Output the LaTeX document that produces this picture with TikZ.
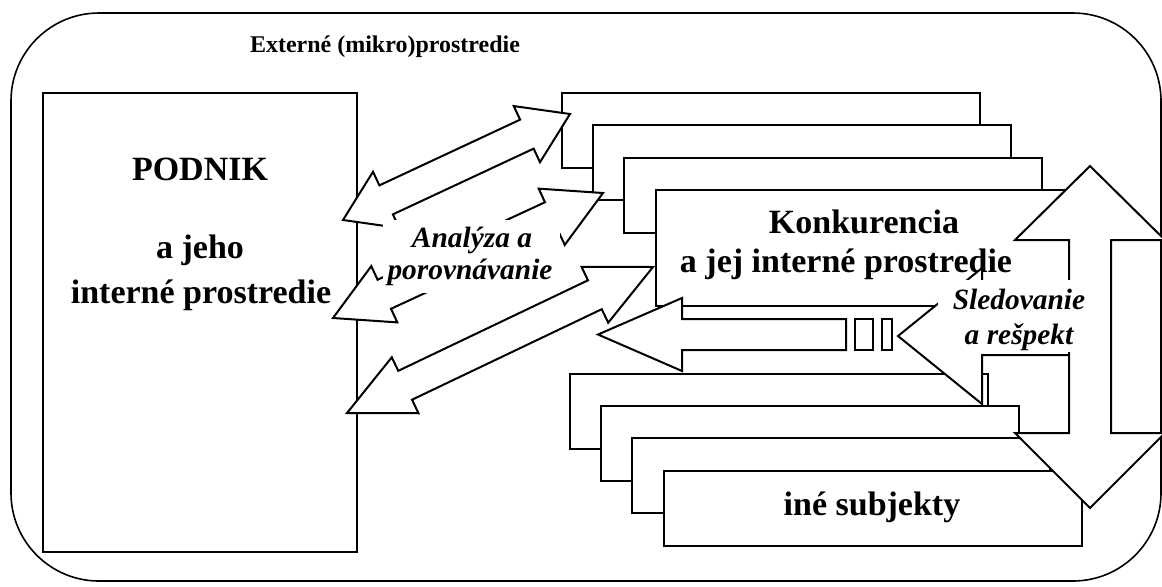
\documentclass[tikz,border=0pt]{standalone}
\usepackage{fontspec}
\setmainfont{Liberation Serif}
\usetikzlibrary{calc}

\begin{document}
\begin{tikzpicture}[x=0.5pt, y=-0.5pt,
    frame/.style={draw, line width=0.8pt, rounded corners=44pt},
    box/.style={draw, fill=white, line width=1pt, inner sep=0pt, minimum width=209pt, minimum height=37.5pt},
    blockarrow/.style={draw, fill=white, line width=1pt, line join=miter},
    mask/.style={fill=white, inner sep=0pt},
    bigtext/.style={font=\fontsize{17}{20}\selectfont\bfseries, inner sep=0pt, anchor=base},
    smalltext/.style={font=\fontsize{14.7}{17}\selectfont\bfseries\itshape, inner sep=0pt, anchor=base}]
  \useasboundingbox (0,0) rectangle (1162,586);

  % External environment
  \draw[frame] (11,13) rectangle (1161,581);
  \node[font=\fontsize{12}{14}\selectfont\bfseries, inner sep=0pt, anchor=base] (title) at (385,52) {Externé (mikro)prostredie};

  % Company
  \node[box, minimum width=157pt, minimum height=229.5pt] (podnik) at (200,322.5) {};
  \node[bigtext] (podnikname) at (200,180) {PODNIK};
  \node[bigtext] (podnikint1) at (200,258) {a jeho};
  \node[bigtext] (podnikint2) at (201,303) {interné prostredie};

  % Competitors
  \foreach \i in {0,...,2} {
    \node[box] (konk\i) at (771+\i*31, 130.5+\i*32.3) {};
  }
  \node[box, minimum height=58pt] (konk) at (865,248) {};
  \node[bigtext] (konkname) at (864,233) {Konkurencia};
  \node[bigtext] (konkint) at (846,272) {a jej interné prostredie};

  % Other subjects
  \node[box] (ine0) at (779,411) {};
  \draw[blockarrow] (898,336) -- (982,268) -- (982,317) -- (1080,317) -- (1080,355) -- (982,355) -- (982,404) -- cycle;
  \foreach \i in {1,2} {
    \node[box] (ine\i) at (779+\i*31, 411+\i*32.3) {};
  }
  \node[box] (ine) at (872.5,508.5) {};
  \node[bigtext] (inename) at (872,515) {iné subjekty};

  % Striped arrow
  \draw[blockarrow] (598,334.5) -- (682,298) -- (682,319) -- (846,319) -- (846,350) -- (682,350) -- (682,371) -- cycle;
  \draw[blockarrow] (855,319) rectangle (873,350);
  \draw[blockarrow] (882,319) rectangle (892,350);

  % Analysis arrows
  \coordinate (pa) at (343,220);
  \coordinate (ka) at (570,114);
  \coordinate (pb) at (333,318);
  \coordinate (kb) at (603,193);
  \coordinate (pc) at (347,413);
  \coordinate (kc) at (653,267);
  \foreach \src/\dst in {pa/ka, pb/kb, pc/kc} {
    \draw[blockarrow] (\src) -- ($(\src)!0.19!(\dst)!15.5pt!90:(\dst)$) -- ($(\src)!0.19!(\dst)!8pt!90:(\dst)$)
      -- ($(\dst)!0.19!(\src)!8pt!-90:(\src)$) -- ($(\dst)!0.19!(\src)!15.5pt!-90:(\src)$) -- (\dst)
      -- ($(\dst)!0.19!(\src)!15.5pt!90:(\src)$) -- ($(\dst)!0.19!(\src)!8pt!90:(\src)$)
      -- ($(\src)!0.19!(\dst)!8pt!-90:(\dst)$) -- ($(\src)!0.19!(\dst)!15.5pt!-90:(\dst)$) -- cycle;
  }
  \node[mask, minimum width=88.5pt, minimum height=36.5pt] (anabox) at (471.5,256.5) {};
  \node[smalltext] (ana1) at (472,247) {Analýza a};
  \node[smalltext] (ana2) at (470,279) {porovnávanie};

  % Monitoring arrow
  \draw[blockarrow] (1090,166) -- (1165,240) -- (1111,240) -- (1111,433) -- (1165,433) -- (1090,508)
    -- (1015,433) -- (1069,433) -- (1069,240) -- (1015,240) -- cycle;
  \node[mask, minimum width=81pt, minimum height=36pt] (sledbox) at (1019,316) {};
  \node[smalltext] (sled1) at (1019,309) {Sledovanie};
  \node[smalltext] (sled2) at (1019,344) {a rešpekt};
\end{tikzpicture}
\end{document}
